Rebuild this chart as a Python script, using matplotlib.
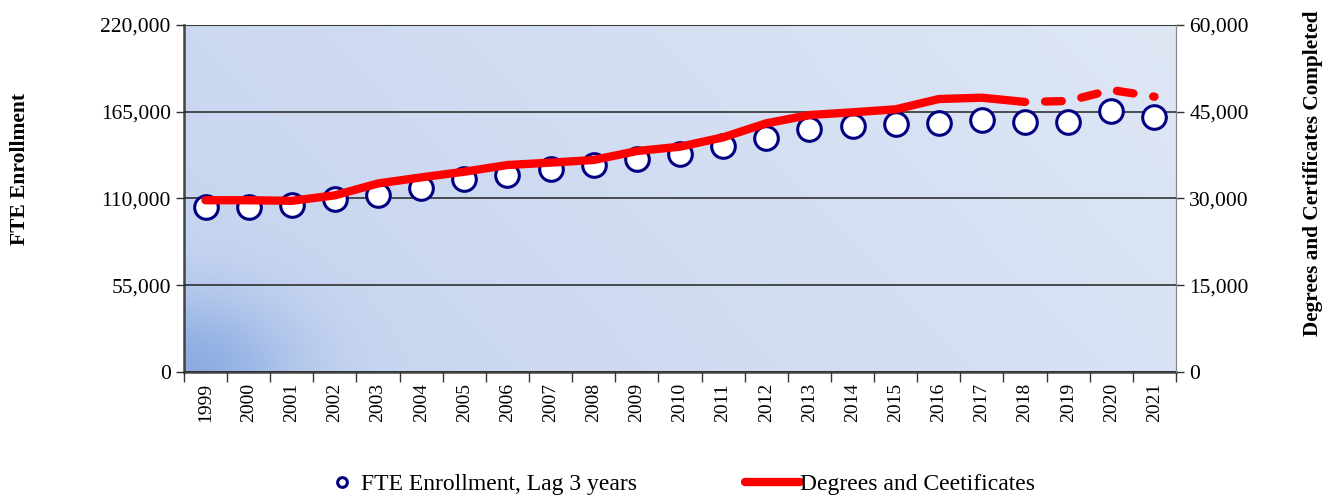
import numpy as np
import matplotlib.pyplot as plt
from matplotlib.lines import Line2D
from matplotlib.ticker import FuncFormatter, FixedLocator

plt.rcParams['font.family'] = ['Liberation Serif', 'DejaVu Serif']

years = [str(y) for y in range(1999, 2022)]
fte_enrollment = [104600, 104300, 105900, 109500, 112200, 116700, 122400, 124900,
                  128700, 131000, 135200, 138300, 143000, 148400, 154300, 156000,
                  157200, 157800, 159700, 158300, 158800, 165500, 161600]
degrees = [29700, 29700, 29600, 30550, 32600, 33650, 34630, 35790, 36200, 36660,
           38200, 38960, 40570, 43000, 44430, 44900, 45420, 47200, 47430, 46690,
           46860, 48760, 47600]
last_actual = 19  # dashed after 2018

x = np.arange(len(years))

fig = plt.figure(figsize=(13.29, 4.96), dpi=100)
ax = fig.add_axes([0.1384, 0.25, 0.7465, 0.6996])
ax2 = ax.twinx()

# gradient background, lighter top right, darker spot bottom left
ny, nx = 200, 400
gx, gy = np.meshgrid(np.linspace(0, 1, nx), np.linspace(1, 0, ny))
t = (gx * 0.75 + gy * 0.25)
top = np.array([223, 231, 245]) / 255
base = np.array([196, 211, 239]) / 255
img = base[None, None, :] + (top - base)[None, None, :] * t[..., None]
corner = np.exp(-((gx / 0.11) ** 2 + (gy / 0.22) ** 2))
dark = np.array([140, 172, 226]) / 255
img = img * (1 - corner[..., None]) + dark[None, None, :] * corner[..., None]
ax.imshow(img, extent=[0, 1, 0, 1], transform=ax.transAxes, aspect='auto',
          zorder=0, interpolation='bilinear')

ax.plot(x, fte_enrollment, linestyle='none', marker='o', markersize=17,
        markerfacecolor='white', markeredgecolor='#000080', markeredgewidth=2.2,
        zorder=3)

ax2.plot(x[:last_actual + 1], degrees[:last_actual + 1], color='#ff0000', lw=6,
         solid_capstyle='round', solid_joinstyle='round', zorder=4)
ax2.plot(x[last_actual:], degrees[last_actual:], color='#ff0000', lw=6,
         linestyle=(2.0, (2.0, 2.4)), dash_capstyle='round', zorder=4)

ax.set_xlim(-0.5, len(years) - 0.5)
ax.set_ylim(0, 220000)
ax2.set_ylim(0, 60000)
ax.set_yticks([0, 55000, 110000, 165000, 220000])
ax2.set_yticks([0, 15000, 30000, 45000, 60000])
fmt = FuncFormatter(lambda v, p: f"{int(v):,}")
ax.yaxis.set_major_formatter(fmt)
ax2.yaxis.set_major_formatter(fmt)

ax.set_xticks(x)
ax.set_xticklabels(years, rotation=90, fontsize=14)
ax.tick_params(axis='x', which='major', length=0, pad=8)
ax.xaxis.set_minor_locator(FixedLocator(np.arange(-0.5, len(years), 1.0)))
ax.tick_params(axis='x', which='minor', length=7, width=1, color='#333333', direction='out')
ax.tick_params(axis='y', length=6, width=1, labelsize=15.5, color='#333333')
ax2.tick_params(axis='y', length=6, width=1, labelsize=15.5, color='#333333')

ax.grid(axis='y', color='#222222', lw=1.1, zorder=1)
ax.set_axisbelow(False)
for gl in ax.get_ygridlines():
    gl.set_zorder(1)

for s in ['left', 'bottom']:
    ax.spines[s].set_color('#444444')
    ax.spines[s].set_linewidth(1.8)
ax.spines['top'].set_color('#888888')
ax.spines['right'].set_color('#888888')
for s in ax2.spines.values():
    s.set_visible(False)
ax2.spines['right'].set_visible(True)
ax2.spines['right'].set_color('#888888')

fig.text(0.015, 0.66, 'FTE Enrollment', rotation=90, fontsize=15.5,
         fontweight='bold', ha='center', va='center')
fig.text(0.988, 0.65, 'Degrees and Certificates Completed', rotation=90,
         fontsize=15.3, fontweight='bold', ha='center', va='center')

h1 = Line2D([], [], linestyle='none', marker='o', markersize=7,
            markerfacecolor='white', markeredgecolor='#000080', markeredgewidth=2.2)
h2 = Line2D([], [], color='#ff0000', lw=6, solid_capstyle='round')
fig.legend([h1], ['FTE Enrollment, Lag 3 years'], loc='center left',
           bbox_to_anchor=(330 / 1329, 0.024), frameon=False, fontsize=17,
           handlelength=1.0, handletextpad=0.3, borderpad=0, borderaxespad=0)
fig.legend([h2], ['Degrees and Ceetificates'], loc='center left',
           bbox_to_anchor=(745 / 1329, 0.024), frameon=False, fontsize=17,
           handlelength=2.33, handletextpad=0.0, borderpad=0, borderaxespad=0)

fig.savefig('out.png', dpi=100)
